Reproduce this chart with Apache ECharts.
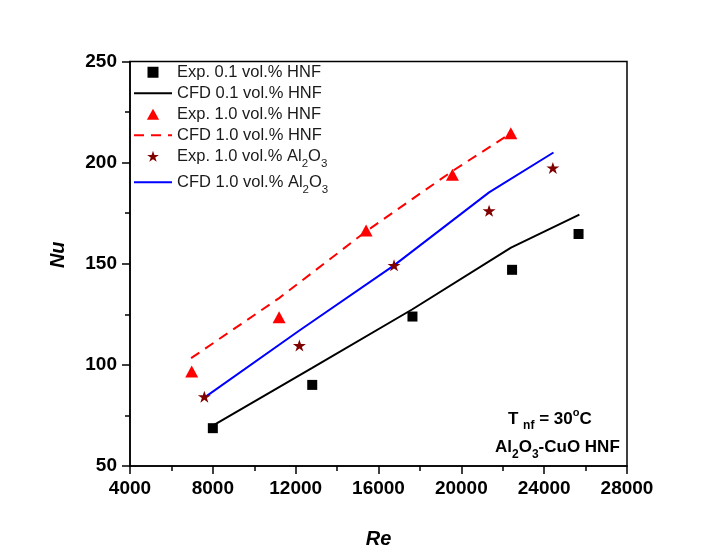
<!DOCTYPE html>
<html>
<head>
<meta charset="utf-8">
<script src="https://cdn.jsdelivr.net/npm/echarts@6/dist/echarts.min.js"></script>
<style>
  html, body { margin: 0; padding: 0; background: #fff; }
  #chart { width: 727px; height: 560px; }
</style>
</head>
<body>
<div id="chart"></div>
<script>
// x: Re, y: Nu
var reTicks = [4000, 28000, 4000];   // min, max, interval
var nuTicks = [50, 250, 50];

var exp01Re = [8000, 12800, 17640, 22450, 25660];
var exp01Nu = [68.7, 90.1, 123.9, 147.0, 164.7];
var cfd01Re = [8000, 12800, 17640, 22400, 25700];
var cfd01Nu = [70.0, 98.5, 127.5, 158.0, 174.3];

var exp10Re = [6980, 11200, 15400, 19570, 22390];
var exp10Nu = [96.7, 123.6, 166.5, 194.0, 214.5];
var cfd10Re = [6950, 11200, 15400, 19550, 22390];
var cfd10Nu = [103.3, 133.0, 166.0, 195.7, 214.5];

var expAlRe = [7590, 12180, 16750, 21340, 24420];
var expAlNu = [84.3, 109.6, 149.2, 176.2, 197.4];
var cfdAlRe = [7590, 12180, 16750, 21340, 24450];
var cfdAlNu = [83.8, 117.0, 149.2, 185.3, 205.0];

var names = [
  'Exp. 0.1 vol.% HNF',
  'CFD 0.1 vol.% HNF',
  'Exp. 1.0 vol.% HNF',
  'CFD 1.0 vol.% HNF',
  'Exp. 1.0 vol.% Al2O3',
  'CFD 1.0 vol.% Al2O3'
];

function pairs(xs, ys) {
  return xs.map(function (x, i) { return [x, ys[i]]; });
}

var FONT = '"Liberation Sans", Arial, sans-serif';
var starPath = 'path://M50,0 L61.8,35.4 L100,35.4 L69.1,57.3 L80.9,92.7 L50,70.8 L19.1,92.7 L30.9,57.3 L0,35.4 L38.2,35.4 Z';
var squarePath = 'path://M0,0 L10,0 L10,10 L0,10 Z';
var trianglePath = 'path://M50,0 L100,90 L0,90 Z';

var axisCommon = {
  axisLine: { lineStyle: { color: '#000', width: 1.5 } },
  axisTick: { length: 8, lineStyle: { color: '#000', width: 1.5 } },
  minorTick: { show: true, splitNumber: 2, length: 5, lineStyle: { color: '#000', width: 1.5 } },
  splitLine: { show: false },
  axisLabel: {
    color: '#000', fontSize: 19, fontWeight: 'bold', fontFamily: FONT, margin: 13,
    formatter: function (v) { return String(v); }
  }
};

var noMark = { opacity: 0 };

var myChart = echarts.init(document.getElementById('chart'));
var option = {
  backgroundColor: '#fff',
  animation: false,
  grid: {
    left: 130, right: 100, top: 61.5, bottom: 94,
    show: true, borderColor: '#000', borderWidth: 1.5
  },
  legend: {
    data: [
      { name: names[0], icon: squarePath },
      { name: names[1], itemStyle: noMark },
      { name: names[2], icon: trianglePath },
      { name: names[3], itemStyle: noMark },
      { name: names[4], icon: starPath },
      { name: names[5], itemStyle: noMark }
    ],
    orient: 'vertical',
    left: 133,
    top: 64,
    padding: 0,
    itemGap: 4,
    itemWidth: 38,
    itemHeight: 11,
    textStyle: {
      color: '#1a1a1a',
      rich: {
        m: { fontSize: 16.5, lineHeight: 16.5, verticalAlign: 'top', fontFamily: FONT, color: '#1a1a1a' },
        s: { fontSize: 11.5, lineHeight: 11, verticalAlign: 'top', padding: [10, 0, 0, 0], fontFamily: FONT, color: '#1a1a1a' }
      }
    },
    formatter: function (name) {
      if (name.indexOf('Al2O3') >= 0) {
        return '{m|' + name.replace('Al2O3', 'Al') + '}{s|2}{m|O}{s|3}';
      }
      return '{m|' + name + '}';
    }
  },
  xAxis: Object.assign({}, axisCommon, {
    type: 'value',
    min: reTicks[0], max: reTicks[1], interval: reTicks[2],
    name: 'Re',
    nameLocation: 'middle',
    nameGap: 63,
    nameTextStyle: { fontSize: 20, fontWeight: 'bold', fontStyle: 'italic', color: '#000', fontFamily: FONT }
  }),
  yAxis: Object.assign({}, axisCommon, {
    type: 'value',
    min: nuTicks[0], max: nuTicks[1], interval: nuTicks[2],
    name: 'Nu',
    nameLocation: 'middle',
    nameGap: 62,
    nameTextStyle: { fontSize: 20, fontWeight: 'bold', fontStyle: 'italic', color: '#000', fontFamily: FONT, padding: [0, 0, 0, 18] }
  }),
  graphic: [
    {
      type: 'text', left: 508, top: 407,
      style: {
        text: '{b|T }{s|nf}{b| = 30}{p|o}{b|C}',
        rich: {
          b: { fontSize: 17, lineHeight: 18, fontWeight: 'bold', verticalAlign: 'top', padding: [4, 0, 0, 0], fontFamily: FONT, fill: '#000' },
          s: { fontSize: 12, lineHeight: 12, fontWeight: 'bold', verticalAlign: 'top', padding: [13, 0, 0, 0], fontFamily: FONT, fill: '#000' },
          p: { fontSize: 11, lineHeight: 11, fontWeight: 'bold', verticalAlign: 'top', fontFamily: FONT, fill: '#000' }
        }
      }
    },
    {
      type: 'text', left: 495, top: 439,
      style: {
        text: '{b|Al}{s|2}{b|O}{s|3}{b|-CuO HNF}',
        rich: {
          b: { fontSize: 17, lineHeight: 18, fontWeight: 'bold', verticalAlign: 'top', fontFamily: FONT, fill: '#000' },
          s: { fontSize: 12, lineHeight: 12, fontWeight: 'bold', verticalAlign: 'top', padding: [10, 0, 0, 0], fontFamily: FONT, fill: '#000' }
        }
      }
    }
  ],
  series: [
    {
      name: names[1], type: 'line', data: pairs(cfd01Re, cfd01Nu),
      symbol: 'none', lineStyle: { color: '#000', width: 2 }, itemStyle: { color: '#000' }
    },
    {
      name: names[3], type: 'line', data: pairs(cfd10Re, cfd10Nu),
      symbol: 'none', lineStyle: { color: '#ff0000', width: 2, type: [10, 7] }, itemStyle: { color: '#ff0000' }
    },
    {
      name: names[5], type: 'line', data: pairs(cfdAlRe, cfdAlNu),
      symbol: 'none', lineStyle: { color: '#0000ff', width: 2 }, itemStyle: { color: '#0000ff' }
    },
    {
      name: names[0], type: 'scatter', data: pairs(exp01Re, exp01Nu), z: 5,
      symbol: 'rect', symbolSize: 10, itemStyle: { color: '#000', opacity: 1 }
    },
    {
      name: names[2], type: 'scatter', data: pairs(exp10Re, exp10Nu), z: 5,
      symbol: 'triangle', symbolSize: [13, 12], itemStyle: { color: '#ff0000', opacity: 1 }
    },
    {
      name: names[4], type: 'scatter', data: pairs(expAlRe, expAlNu), z: 5,
      symbol: starPath, symbolSize: [13, 12], itemStyle: { color: '#800000', opacity: 1 }
    }
  ]
};
myChart.setOption(option);
</script>
</body>
</html>
